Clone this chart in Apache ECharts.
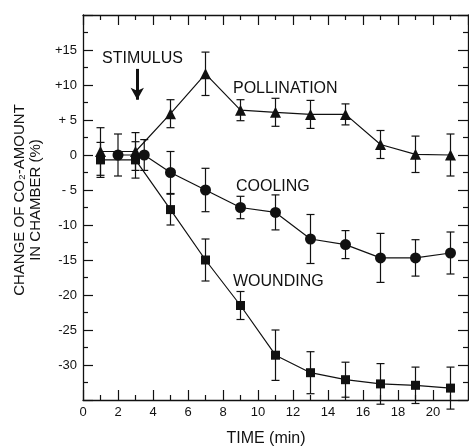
<!DOCTYPE html>
<html>
<head>
<meta charset="utf-8">
<script src="https://cdn.jsdelivr.net/npm/echarts@6/dist/echarts.min.js"></script>
<style>
    html, body { margin: 0; padding: 0; background: #fff; }
    #chart { width: 469px; height: 446px; }
</style>
</head>
<body>
<div id="chart"></div>
<script>
// values (change of CO2 amount, %)
const pollinationX = [1, 3, 5, 7, 9, 11, 13, 15, 17, 19, 21];
const pollinationY = [0.5, 0.5, 5.9, 11.6, 6.4, 6.1, 5.8, 5.8, 1.5, 0.1, 0];
const pollinationErr = [3.4, 2.7, 2.0, 3.1, 1.5, 2.0, 2.0, 1.5, 2.0, 2.6, 3.0];

const coolingX = [2, 3.5, 5, 7, 9, 11, 13, 15, 17, 19, 21];
const coolingY = [0, 0, -2.5, -5.0, -7.5, -8.2, -12.0, -12.8, -14.7, -14.7, -14.0];
const coolingErr = [3.0, 2.2, 3.0, 3.1, 1.6, 2.5, 3.5, 2.0, 3.5, 2.6, 3.0];

const woundingX = [1, 3, 5, 7, 9, 11, 13, 15, 17, 19, 21];
const woundingY = [-0.7, -0.7, -7.8, -15.0, -21.5, -28.6, -31.1, -32.1, -32.7, -32.9, -33.3];
const woundingErr = [2.5, 2.6, 2.2, 3.0, 2.0, 3.6, 3.0, 2.5, 2.9, 2.6, 3.0];

const yTickLabels = { '15': '+15', '10': '+10', '5': '+ 5', '0': '0', '-5': '- 5', '-10': '-10',
    '-15': '-15', '-20': '-20', '-25': '-25', '-30': '-30' };
const stimulusArrow = [[3.1, 12.3], [3.1, 7.9]];

const INK = '#111';
const FONT = '"Liberation Sans", Arial, sans-serif';

const pts = (xs, ys) => xs.map((x, i) => [x, ys[i]]);
const errs = (xs, ys, es) => xs.map((x, i) => [x, ys[i], es[i]]);

const renderErr = (params, api) => {
    const x = api.value(0), y = api.value(1), e = api.value(2);
    const top = api.coord([x, y + e]);
    const bot = api.coord([x, y - e]);
    const w = 4;
    const style = { stroke: INK, lineWidth: 1.2 };
    return {
        type: 'group',
        children: [
            { type: 'line', shape: { x1: top[0], y1: top[1], x2: bot[0], y2: bot[1] }, style },
            { type: 'line', shape: { x1: top[0] - w, y1: top[1], x2: top[0] + w, y2: top[1] }, style },
            { type: 'line', shape: { x1: bot[0] - w, y1: bot[1], x2: bot[0] + w, y2: bot[1] }, style },
        ],
    };
};

const lineSeries = (name, data, symbol, size) => ({
    name,
    type: 'line',
    data,
    symbol,
    symbolSize: size,
    showAllSymbol: true,
    lineStyle: { color: INK, width: 1.2 },
    itemStyle: { color: INK },
    z: 3,
});

const errSeries = (data) => ({
    type: 'custom',
    renderItem: renderErr,
    data,
    z: 2,
});

const frameAxis = {
    axisLine: { show: true, onZero: false, lineStyle: { color: INK, width: 1.3 } },
    axisTick: { show: true, inside: true, length: 10, lineStyle: { color: INK, width: 1.2 } },
    minorTick: { show: true, splitNumber: 2, length: 5, lineStyle: { color: INK, width: 1.2 } },
    splitLine: { show: false },
};

const option = {
    animation: false,
    grid: { left: 83, right: 1, top: 15, bottom: 46 },
    xAxis: [
        {
            type: 'value', min: 0, max: 22, interval: 2, position: 'bottom',
            ...frameAxis,
            axisLabel: {
                color: INK, fontSize: 13, fontFamily: FONT, margin: 6,
                showMaxLabel: false,
            },
        },
        {
            type: 'value', min: 0, max: 22, interval: 2, position: 'top',
            ...frameAxis,
            axisLabel: { show: false },
        },
    ],
    yAxis: [
        {
            type: 'value', min: -35, max: 20, interval: 5, position: 'left',
            ...frameAxis,
            axisLabel: {
                color: INK, fontSize: 13, fontFamily: FONT, margin: 6,
                formatter: v => yTickLabels[String(v)] || '',
            },
        },
        {
            type: 'value', min: -35, max: 20, interval: 5, position: 'right',
            ...frameAxis,
            axisLabel: { show: false },
        },
    ],
    graphic: [
        {
            type: 'text', x: 27.5, y: 200, rotation: Math.PI / 2,
            style: {
                text: 'CHANGE OF CO₂-AMOUNT\nIN CHAMBER (%)',
                fill: INK, font: '15px ' + FONT, lineHeight: 16,
                textAlign: 'center', textVerticalAlign: 'middle',
            },
        },
        {
            type: 'text', x: 266, y: 439,
            style: { text: 'TIME (min)', fill: INK, font: '16px ' + FONT, textAlign: 'center', textVerticalAlign: 'middle' },
        },
        {
            type: 'text', x: 102, y: 59,
            style: { text: 'STIMULUS', fill: INK, font: '16px ' + FONT, textAlign: 'left', textVerticalAlign: 'middle' },
        },
        {
            type: 'text', x: 233, y: 89,
            style: { text: 'POLLINATION', fill: INK, font: '16px ' + FONT, textAlign: 'left', textVerticalAlign: 'middle' },
        },
        {
            type: 'text', x: 236, y: 187,
            style: { text: 'COOLING', fill: INK, font: '16px ' + FONT, textAlign: 'left', textVerticalAlign: 'middle' },
        },
        {
            type: 'text', x: 233, y: 282,
            style: { text: 'WOUNDING', fill: INK, font: '16px ' + FONT, textAlign: 'left', textVerticalAlign: 'middle' },
        },
    ],
    series: [
        errSeries(errs(pollinationX, pollinationY, pollinationErr)),
        errSeries(errs(coolingX, coolingY, coolingErr)),
        errSeries(errs(woundingX, woundingY, woundingErr)),
        lineSeries('POLLINATION', pts(pollinationX, pollinationY), 'triangle', 11),
        lineSeries('COOLING', pts(coolingX, coolingY), 'circle', 11),
        {
            ...lineSeries('WOUNDING', pts(woundingX, woundingY), 'rect', 9),
            markLine: {
                silent: true,
                symbol: ['none', 'arrow'],
                symbolSize: [10, 12],
                label: { show: false },
                lineStyle: { color: INK, width: 3, type: 'solid' },
                data: [[{ coord: stimulusArrow[0] }, { coord: stimulusArrow[1] }]],
            },
        },
    ],
};

const myChart = echarts.init(document.getElementById('chart'));
myChart.setOption(option);
</script>
</body>
</html>
